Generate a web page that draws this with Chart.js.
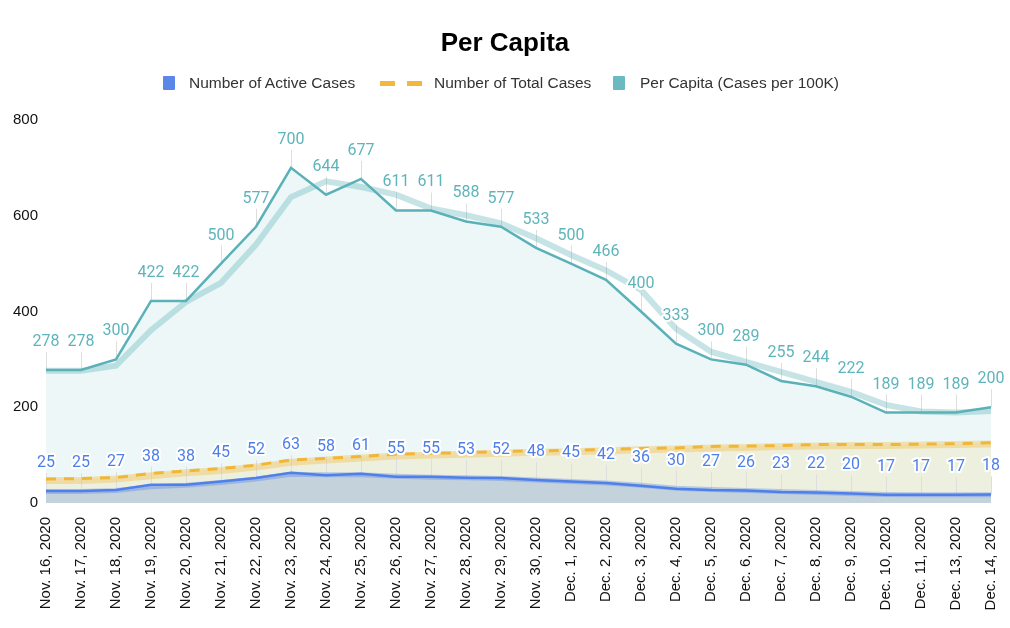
<!DOCTYPE html>
<html>
<head>
<meta charset="utf-8">
<script src="https://cdn.jsdelivr.net/npm/chart.js@4.4.1/dist/chart.umd.min.js"></script>
<style>
  html, body { margin: 0; padding: 0; background: #fff; }
  #wrap { position: relative; width: 1010px; height: 628px; font-family: "Liberation Sans", Arial, sans-serif; }
  #title { position: absolute; left: 0; width: 1010px; top: 25px; text-align: center; font-weight: bold; font-size: 26px; line-height: 34px; color: #000; }
  .key { position: absolute; top: 76px; }
  .txt { position: absolute; top: 73px; font-size: 15.5px; line-height: 20px; color: #333; white-space: nowrap; }
  canvas { position: absolute; left: 0; top: 0; }
</style>
</head>
<body>
<div id="wrap">
  <canvas id="chart" width="1010" height="628"></canvas>
  <div id="title">Per Capita</div>
  <div class="key" style="left:163px;width:12px;height:14px;background:#5a87e8;border-radius:1px"></div>
  <div class="txt" style="left:189px">Number of Active Cases</div>
  <div class="key" style="left:380px;top:81px;width:15px;height:5px;background:#f2b83e"></div>
  <div class="key" style="left:407px;top:81px;width:15px;height:5px;background:#f2b83e"></div>
  <div class="txt" style="left:434px">Number of Total Cases</div>
  <div class="key" style="left:613px;width:12px;height:14px;background:#69bbc1;border-radius:1px"></div>
  <div class="txt" style="left:640px">Per Capita (Cases per 100K)</div>
</div>
<script>
// values
const dates = ['Nov. 16, 2020', 'Nov. 17, 2020', 'Nov. 18, 2020', 'Nov. 19, 2020', 'Nov. 20, 2020',
  'Nov. 21, 2020', 'Nov. 22, 2020', 'Nov. 23, 2020', 'Nov. 24, 2020', 'Nov. 25, 2020', 'Nov. 26, 2020',
  'Nov. 27, 2020', 'Nov. 28, 2020', 'Nov. 29, 2020', 'Nov. 30, 2020', 'Dec. 1, 2020', 'Dec. 2, 2020',
  'Dec. 3, 2020', 'Dec. 4, 2020', 'Dec. 5, 2020', 'Dec. 6, 2020', 'Dec. 7, 2020', 'Dec. 8, 2020',
  'Dec. 9, 2020', 'Dec. 10, 2020', 'Dec. 11, 2020', 'Dec. 13, 2020', 'Dec. 14, 2020'];

const activeCases = [25, 25, 27, 38, 38, 45, 52, 63, 58, 61, 55, 55, 53, 52, 48, 45, 42, 36, 30, 27, 26, 23, 22, 20, 17, 17, 17, 18];
const totalCases = [50, 51, 53, 62, 67, 72, 79, 90, 93, 97, 102, 104, 105, 108, 109, 110, 112, 114, 115, 118, 119, 120, 122, 122, 122, 123, 124, 126];
const perCapita = [278, 278, 300, 422, 422, 500, 577, 700, 644, 677, 611, 611, 588, 577, 533, 500, 466, 400, 333, 300, 289, 255, 244, 222, 189, 189, 189, 200];

// the pale, wide lines drawn under each series
const activeTrend = [24, 24, 26, 34, 37, 43, 50, 60, 59, 59, 56, 54, 53, 51, 48, 45, 42, 37, 31, 28, 26, 24, 22, 20, 18, 17, 17, 17];
const totalTrend = [47, 47, 50, 57, 63, 68, 75, 85, 90, 94, 98, 100, 102, 104, 106, 107, 109, 111, 113, 115, 116, 118, 119, 120, 120, 121, 122, 123];
const perCapitaTrend = [276, 276, 287, 361, 420, 460, 540, 639, 672, 660, 644, 615, 601, 584, 553, 518, 486, 445, 364, 316, 295, 274, 253, 232, 205, 191, 189, 192];

const yTicks = [0, 200, 400, 600, 800];

const BLUE = '#4f80e9';
const GOLD = '#f2b636';
const TEAL = '#5bb1b8';

// value labels with thin leader lines
const pointLabels = {
    id: 'pointLabels',
    beforeDatasetsDraw(chart, args, opts) {
        const ctx = chart.ctx;
        ctx.save();
        ctx.strokeStyle = '#dedede';
        ctx.lineWidth = 1;
        opts.series.forEach(s => {
            chart.getDatasetMeta(s.index).data.forEach(pt => {
                const x = Math.round(pt.x) + 0.5;
                ctx.beginPath();
                ctx.moveTo(x, pt.y - s.offset + 10);
                ctx.lineTo(x, pt.y);
                ctx.stroke();
            });
        });
        ctx.restore();
    },
    afterDatasetsDraw(chart, args, opts) {
        const ctx = chart.ctx;
        ctx.save();
        ctx.textAlign = 'center';
        ctx.textBaseline = 'middle';
        ctx.lineJoin = 'round';
        opts.series.forEach(s => {
            const values = chart.data.datasets[s.index].data;
            ctx.font = s.font;
            chart.getDatasetMeta(s.index).data.forEach((pt, i) => {
                const y = pt.y - s.offset;
                ctx.lineWidth = 4;
                ctx.strokeStyle = '#fff';
                ctx.strokeText(String(values[i]), pt.x, y);
                ctx.fillStyle = s.color;
                ctx.fillText(String(values[i]), pt.x, y);
            });
        });
        ctx.restore();
    }
};

Chart.defaults.font.family = '"Liberation Sans", Arial, sans-serif';
Chart.defaults.font.size = 15;
Chart.defaults.color = '#111';

new Chart(document.getElementById('chart'), {
    type: 'line',
    data: {
        labels: dates,
        datasets: [
            { label: 'Number of Active Cases', data: activeCases, order: 0, borderColor: BLUE, borderWidth: 2.5,
              fill: 'origin', backgroundColor: '#c4d2dc' },
            { label: 'active trend', data: activeTrend, order: 1, borderColor: 'rgba(79,128,233,0.35)', borderWidth: 5, fill: false },
            { label: 'Number of Total Cases', data: totalCases, order: 2, borderColor: GOLD, borderWidth: 3,
              borderDash: [10, 8], fill: 'origin', backgroundColor: '#eef0df' },
            { label: 'total trend', data: totalTrend, order: 3, borderColor: 'rgba(242,182,54,0.35)', borderWidth: 7, fill: false },
            { label: 'Per Capita (Cases per 100K)', data: perCapita, order: 4, borderColor: TEAL, borderWidth: 2.5,
              fill: 'origin', backgroundColor: '#edf7f8' },
            { label: 'per capita trend', data: perCapitaTrend, order: 5, borderColor: 'rgba(91,177,184,0.35)', borderWidth: 6, fill: false }
        ]
    },
    options: {
        responsive: false,
        animation: false,
        events: [],
        elements: { point: { radius: 0 }, line: { tension: 0, borderCapStyle: 'butt' } },
        layout: { padding: { top: 120, right: 19, left: 0, bottom: 0 } },
        plugins: {
            legend: { display: false },
            tooltip: { enabled: false },
            filler: { drawTime: 'beforeDatasetsDraw' },
            pointLabels: {
                series: [
                    { index: 4, offset: 28, color: '#5fb4bb', font: '16px Roboto' },
                    { index: 0, offset: 28, color: '#4d7fe8', font: '16px Roboto' }
                ]
            }
        },
        scales: {
            x: {
                offset: false,
                grid: { display: false },
                border: { display: false },
                ticks: { autoSkip: false, maxRotation: 90, minRotation: 90, padding: 6, color: '#111' },
                afterFit: s => { s.height = 125; s.paddingLeft = 0; s.paddingRight = 0; }
            },
            y: {
                min: 0, max: 800,
                grid: { display: false },
                border: { display: false },
                ticks: { padding: 0, color: '#111' },
                afterBuildTicks: s => { s.ticks = yTicks.map(v => ({ value: v })); },
                afterFit: s => { s.width = 46; }
            }
        }
    },
    plugins: [pointLabels]
});
</script>
</body>
</html>
